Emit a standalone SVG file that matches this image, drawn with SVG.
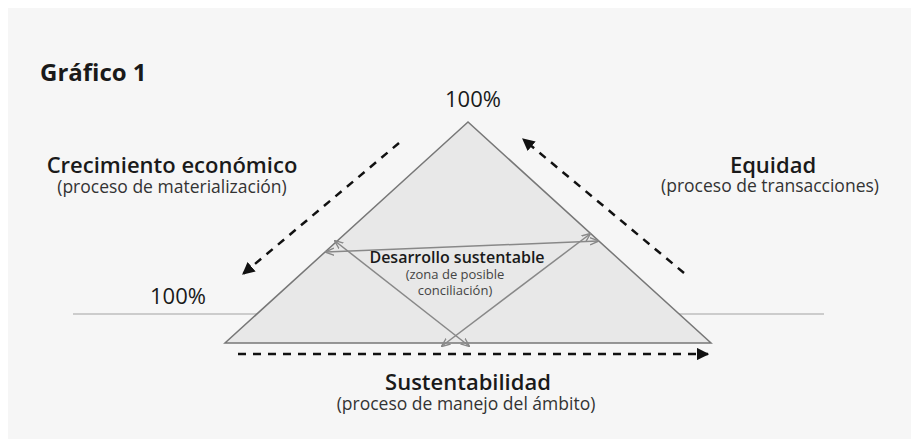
<svg xmlns="http://www.w3.org/2000/svg" width="911" height="439" viewBox="0 0 911 439">
<defs>
<style>
text{font-family:"Open Sans","Noto Sans","Liberation Sans",sans-serif;fill:#1a1a1a}
.t{font-size:22px;font-weight:600}
.s{font-size:17.5px;fill:#333}
.p{font-size:22px}
.dash{fill:none;stroke:#111;stroke-width:2.5;stroke-dasharray:8 7}
.thin{fill:none;stroke:#888;stroke-width:1.5}
</style>
<marker id="ah" viewBox="0 0 10 10" refX="9" refY="5" markerWidth="5" markerHeight="5" orient="auto-start-reverse" markerUnits="strokeWidth">
<path d="M0,0 L10,5 L0,10 Z" fill="#111"/>
</marker>
<marker id="gh" viewBox="0 0 10 10" refX="9" refY="5" markerWidth="6" markerHeight="6" orient="auto-start-reverse" markerUnits="strokeWidth">
<path d="M0,1 L10,5 L0,9" fill="none" stroke="#888" stroke-width="1.5"/>
</marker>
</defs>
<rect x="0" y="0" width="911" height="439" fill="#ffffff"/>
<rect x="8" y="8" width="903" height="431" fill="#f6f6f6"/>
<text x="40" y="81" style="font-size:24px;font-weight:700">Gráfico 1</text>
<line x1="73" y1="314" x2="824" y2="314" stroke="#cccccc" stroke-width="2"/>
<g id="triangle">
<polygon points="468,122 225,343 711,343" fill="#e8e8e8" stroke="#777" stroke-width="1.5"/>
</g>
<g id="connectors">
<line class="thin" x1="326" y1="252" x2="598" y2="241" marker-start="url(#gh)" marker-end="url(#gh)"/>
<line class="thin" x1="335" y1="241" x2="469" y2="346" marker-start="url(#gh)" marker-end="url(#gh)"/>
<line class="thin" x1="590" y1="234" x2="442" y2="346" marker-start="url(#gh)" marker-end="url(#gh)"/>
<line class="dash" x1="399" y1="143" x2="243" y2="274" marker-end="url(#ah)"/>
<line class="dash" x1="684" y1="273" x2="523" y2="139" marker-end="url(#ah)"/>
<line class="dash" x1="238" y1="354" x2="708" y2="354" marker-end="url(#ah)"/>
</g>
<g id="top100"><text class="p" x="473" y="107" text-anchor="middle">100%</text></g>
<g id="left100"><text class="p" x="178" y="304" text-anchor="middle">100%</text></g>
<g id="crecimiento">
<text class="t" x="172" y="173" text-anchor="middle">Crecimiento económico</text>
<text class="s" x="172" y="193" text-anchor="middle">(proceso de materialización)</text>
</g>
<g id="equidad">
<text class="t" x="773" y="173" text-anchor="middle">Equidad</text>
<text class="s" x="770" y="192" text-anchor="middle">(proceso de transacciones)</text>
</g>
<g id="desarrollo">
<text x="457" y="263" text-anchor="middle" style="font-size:16px;font-weight:600">Desarrollo sustentable</text>
<text x="455" y="279" text-anchor="middle" style="font-size:13px;fill:#444">(zona de posible</text>
<text x="455" y="295" text-anchor="middle" style="font-size:13px;fill:#444">conciliación)</text>
</g>
<g id="sustentabilidad">
<text class="t" x="468" y="390" text-anchor="middle">Sustentabilidad</text>
<text class="s" x="466" y="410" text-anchor="middle">(proceso de manejo del ámbito)</text>
</g>
</svg>
